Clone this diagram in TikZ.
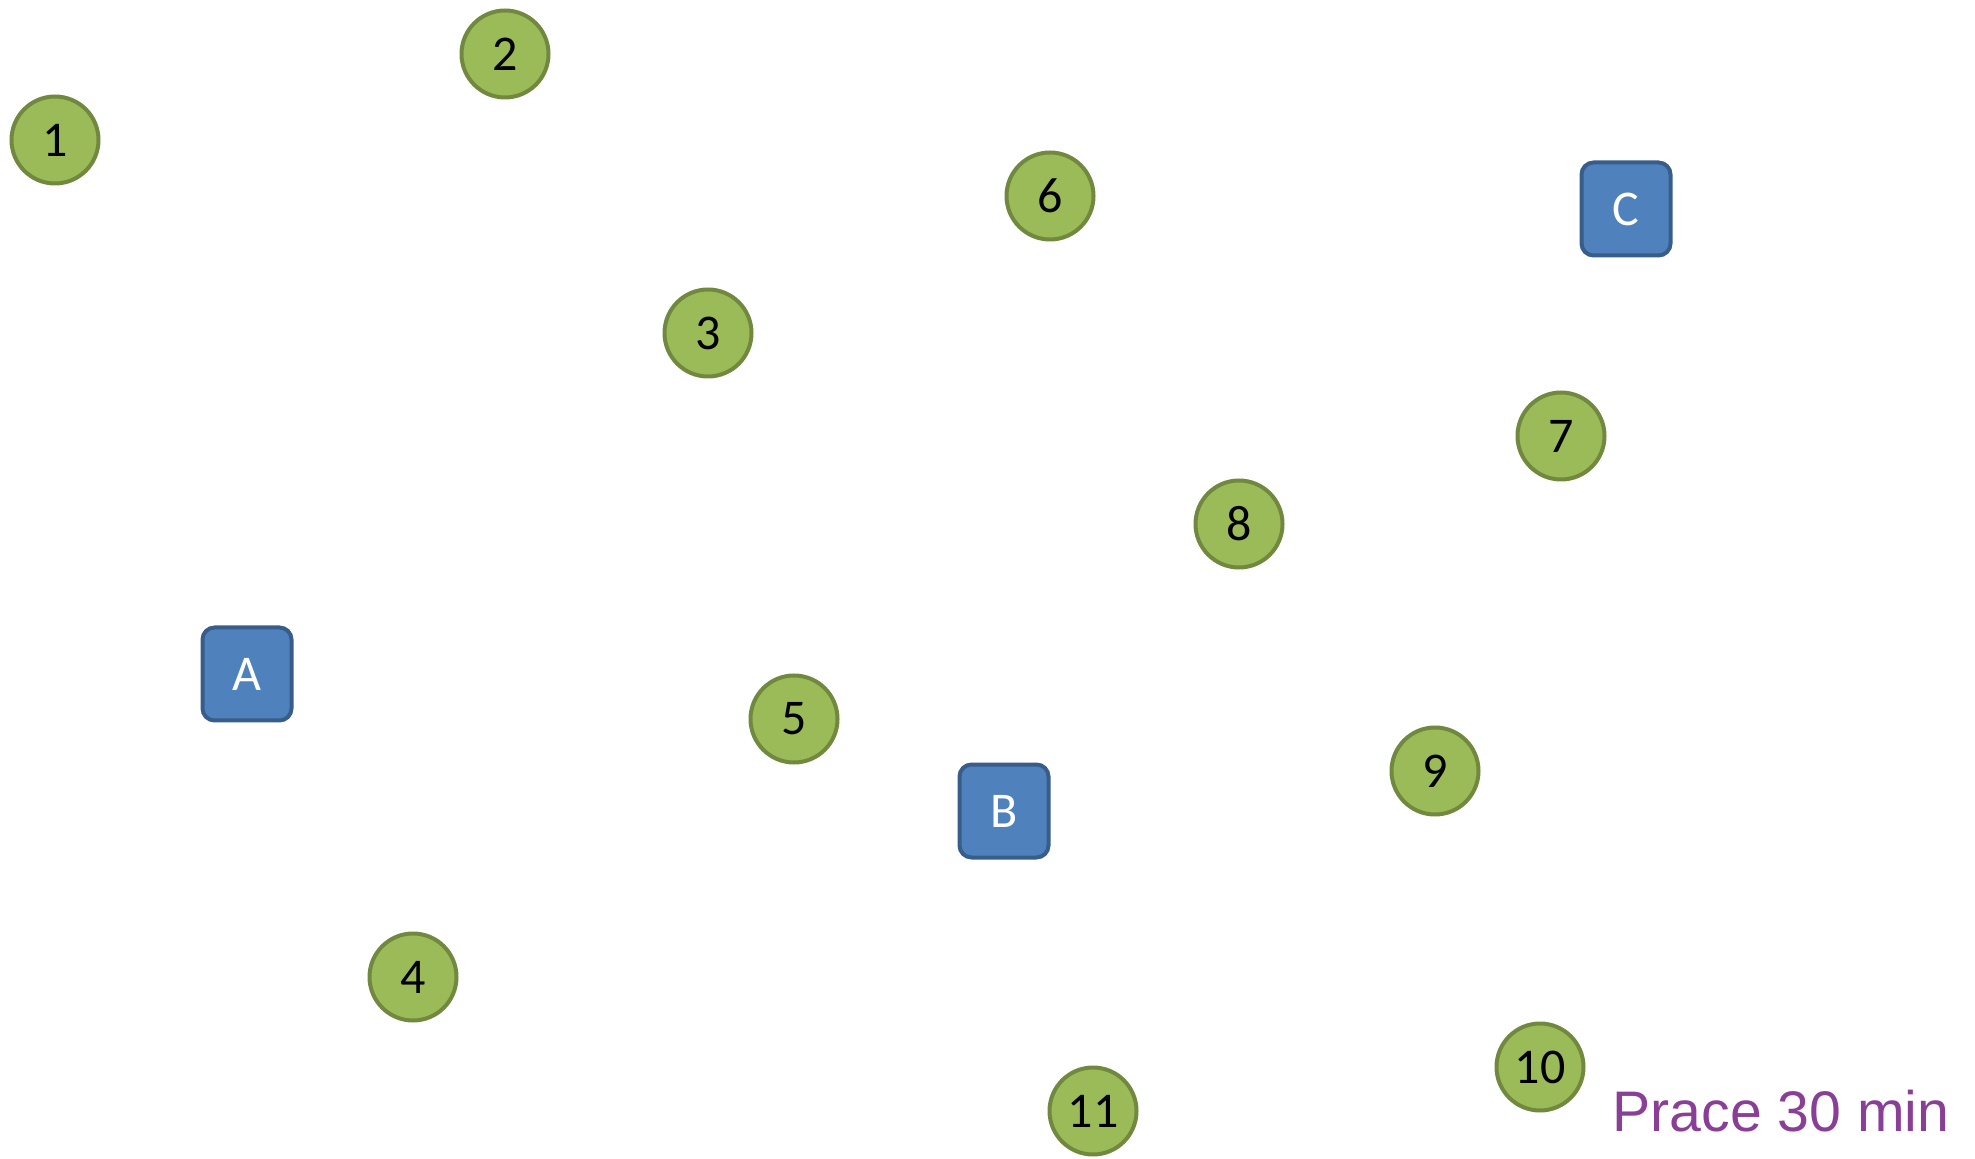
\documentclass[tikz,border=0pt]{standalone}
\usepackage{fontspec}
\setmainfont{Carlito}
\newfontfamily\labelfont{Liberation Sans}
\usepackage{tikz}
\definecolor{SpotGreen}{HTML}{9BBB59}
\definecolor{SpotEdge}{HTML}{71893F}
\definecolor{DepotBlue}{HTML}{4F81BD}
\definecolor{DepotEdge}{HTML}{385D8A}
\definecolor{NotePurple}{HTML}{8A3F96}
\tikzset{
  spot/.style={circle,draw=SpotEdge,fill=SpotGreen,line width=2pt,
    minimum size=43.5pt,inner sep=0pt,text=black,
    font=\fontsize{25}{30}\selectfont},
  depot/.style={rectangle,draw=DepotEdge,fill=DepotBlue,line width=2pt,
    rounded corners=6pt,minimum width=44.5pt,minimum height=46.5pt,
    inner sep=0pt,text=white,font=\fontsize{25}{30}\selectfont},
  note/.style={text=NotePurple,inner sep=0pt,
    font=\labelfont\fontsize{28.6}{34}\selectfont}
}

\begin{document}
\begin{tikzpicture}[x=0.5pt,y=-0.5pt]
        \useasboundingbox (0,0) rectangle (1975,1159);
        % stops
        \node[spot] (s1) at (55,140) {1};
        \node[spot] (s2) at (505,54) {2};
        \node[spot] (s3) at (708,333) {3};
        \node[spot] (s4) at (413,977) {4};
        \node[spot] (s5) at (794,719) {5};
        \node[spot] (s6) at (1050,196) {6};
        \node[spot] (s7) at (1561,436) {7};
        \node[spot] (s8) at (1239,524) {8};
        \node[spot] (s9) at (1435,771) {9};
        \node[spot] (s10) at (1540,1067) {10};
        \node[spot] (s11) at (1093,1111) {11};
        % depots
        \node[depot] (dA) at (247,674) {A};
        \node[depot] (dB) at (1004,811) {B};
        \node[depot] (dC) at (1626,209) {C};
        \node[note,anchor=base west] (work) at (1612,1131) {Prace 30 min};
      \end{tikzpicture}
\end{document}
